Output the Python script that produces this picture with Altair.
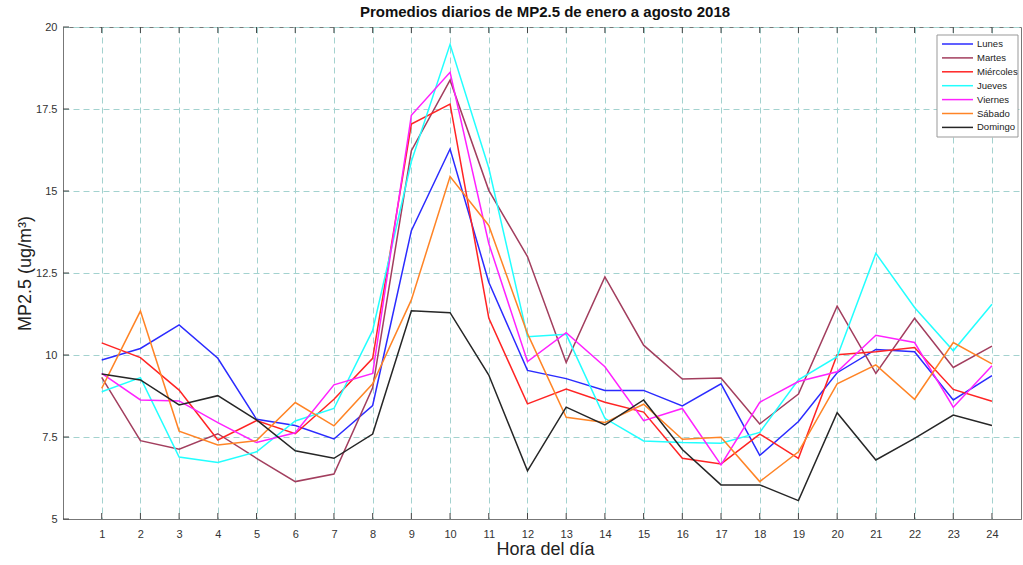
import altair as alt
import pandas as pd

# Hourly means of PM2.5 (ug/m3), January-August 2018, one series per weekday
hours = list(range(1, 25))
days = ["Lunes", "Martes", "Miércoles", "Jueves", "Viernes", "Sábado", "Domingo"]
colors = ["#2b2bff", "#a23e5e", "#ff2424", "#22ffff", "#ff22ff", "#ff8426", "#262626"]

lunes = [9.85, 10.20, 10.92, 9.90, 8.04, 7.85, 7.44, 8.46, 13.79, 16.28, 12.22, 9.53,
         9.28, 8.92, 8.92, 8.45, 9.12, 6.94, 7.97, 9.46, 10.17, 10.10, 8.63, 9.37]
martes = [9.32, 7.39, 7.13, 7.60, 6.85, 6.14, 6.37, 9.00, 16.23, 18.38, 15.02, 13.00,
          9.77, 12.38, 10.30, 9.27, 9.30, 7.90, 8.81, 11.49, 9.44, 11.12, 9.62, 10.27]
miercoles = [10.37, 9.92, 8.93, 7.41, 8.00, 7.60, 8.65, 9.90, 17.04, 17.65, 11.13, 8.51,
             8.96, 8.56, 8.26, 6.85, 6.68, 7.59, 6.85, 10.01, 10.10, 10.23, 8.95, 8.59]
jueves = [8.88, 9.31, 6.89, 6.72, 7.05, 7.99, 8.37, 10.75, 15.90, 19.47, 15.70, 10.56,
          10.63, 8.07, 7.38, 7.33, 7.31, 7.64, 9.24, 9.95, 13.10, 11.45, 10.13, 11.55]
viernes = [9.44, 8.63, 8.60, 7.94, 7.33, 7.63, 9.09, 9.44, 17.31, 18.62, 13.40, 9.80,
           10.68, 9.64, 8.00, 8.37, 6.65, 8.56, 9.19, 9.49, 10.60, 10.38, 8.41, 9.67]
sabado = [8.98, 11.34, 7.68, 7.26, 7.39, 8.55, 7.84, 9.12, 11.68, 15.44, 13.95, 10.65,
          8.10, 7.94, 8.50, 7.43, 7.49, 6.14, 7.05, 9.12, 9.70, 8.65, 10.38, 9.73]
domingo = [9.42, 9.24, 8.48, 8.76, 8.02, 7.08, 6.85, 7.59, 11.35, 11.29, 9.39, 6.47,
           8.41, 7.87, 8.63, 7.12, 6.04, 6.04, 5.56, 8.24, 6.80, 7.46, 8.17, 7.85]

y_ticks = [5, 7.5, 10, 12.5, 15, 17.5, 20]

series = [lunes, martes, miercoles, jueves, viernes, sabado, domingo]
rows = []
for day, vals in zip(days, series):
    for h, v in zip(hours, vals):
        rows.append({"hour": h, "value": v, "day": day})
df = pd.DataFrame(rows)

W, H = 958, 492
x_scale = alt.Scale(domain=[0, 24.75], nice=False, zero=False)
y_scale = alt.Scale(domain=[5, 20], nice=False, zero=False)
grid_color = "#a3d2cf"
x_title = "Hora del día"
y_title = "MP2.5 (ug/m³)"

lines = alt.Chart(df).mark_line(strokeWidth=1.5, clip=True).encode(
    x=alt.X("hour:Q", scale=x_scale, title=x_title,
            axis=alt.Axis(values=hours, grid=True,
                          gridColor=grid_color, gridDash=[6, 4], gridWidth=1,
                          tickSize=0, labelPadding=9, labelFontSize=11,
                          labelColor="#333333", domainColor="#777777",
                          titleFontSize=18, titleFontWeight="normal",
                          titleColor="#222222", titleX=482, titleY=30,
                          titleBaseline="middle", titleAlign="center")),
    y=alt.Y("value:Q", scale=y_scale, title=y_title,
            axis=alt.Axis(values=y_ticks, labelExpr="toString(datum.value)",
                          grid=True, gridColor=grid_color, gridDash=[6, 4],
                          gridWidth=1, tickSize=0, labelPadding=6,
                          labelFontSize=11, labelColor="#333333",
                          domainColor="#777777", titleFontSize=18,
                          titleFontWeight="normal", titleColor="#222222",
                          titleAngle=-90, titleX=-38, titleY=246,
                          titleBaseline="middle", titleAlign="center")),
    color=alt.Color("day:N", sort=days,
                    scale=alt.Scale(domain=days, range=colors), legend=None),
)

# Inward tick marks along the box edges
xt = pd.DataFrame({"hour": hours})
yt = pd.DataFrame({"value": y_ticks})
bottom_ticks = alt.Chart(xt).mark_rule(color="#444444", strokeWidth=1).encode(
    x=alt.X("hour:Q", scale=x_scale, title=x_title),
    y=alt.value(H), y2=alt.value(H - 6))
top_ticks = alt.Chart(xt).mark_rule(color="#444444", strokeWidth=1).encode(
    x=alt.X("hour:Q", scale=x_scale, title=x_title),
    y=alt.value(0), y2=alt.value(6))
left_ticks = alt.Chart(yt).mark_rule(color="#444444", strokeWidth=1).encode(
    y=alt.Y("value:Q", scale=y_scale, title=y_title),
    x=alt.value(0), x2=alt.value(6))

# Boxed legend in the upper right corner
one = pd.DataFrame({"k": [0]})
LX, LY, LW, LH = 874, 8, 81, 102
legend_layers = [
    alt.Chart(one).mark_rect(fill="white", stroke="#999999", strokeWidth=1).encode(
        x=alt.value(LX), x2=alt.value(LX + LW),
        y=alt.value(LY), y2=alt.value(LY + LH))
]
for i, (day, col) in enumerate(zip(days, colors)):
    ry = LY + 9 + 13.9 * i
    legend_layers.append(
        alt.Chart(one).mark_rule(color=col, strokeWidth=1.5).encode(
            x=alt.value(LX + 5), x2=alt.value(LX + 36), y=alt.value(ry)))
    legend_layers.append(
        alt.Chart(one).mark_text(text=day, align="left", baseline="middle",
                                 fontSize=9.5, color="#222222").encode(
            x=alt.value(LX + 40), y=alt.value(ry)))

chart = alt.layer(lines, bottom_ticks, top_ticks, left_ticks, *legend_layers).properties(
    width=W, height=H,
    title=alt.Title("Promedios diarios de MP2.5 de enero a agosto 2018",
                    fontSize=15, fontWeight="bold", color="#111111",
                    anchor="middle", offset=1, dx=3),
    autosize=alt.AutoSizeParams(type="none"),
    padding={"left": 63, "top": 27, "right": 2, "bottom": 46},
).configure(
    font="Liberation Sans",
).configure_view(
    stroke="#777777", strokeWidth=1,
)

chart.save("out.html", embed_options={"renderer": "svg", "actions": False})
